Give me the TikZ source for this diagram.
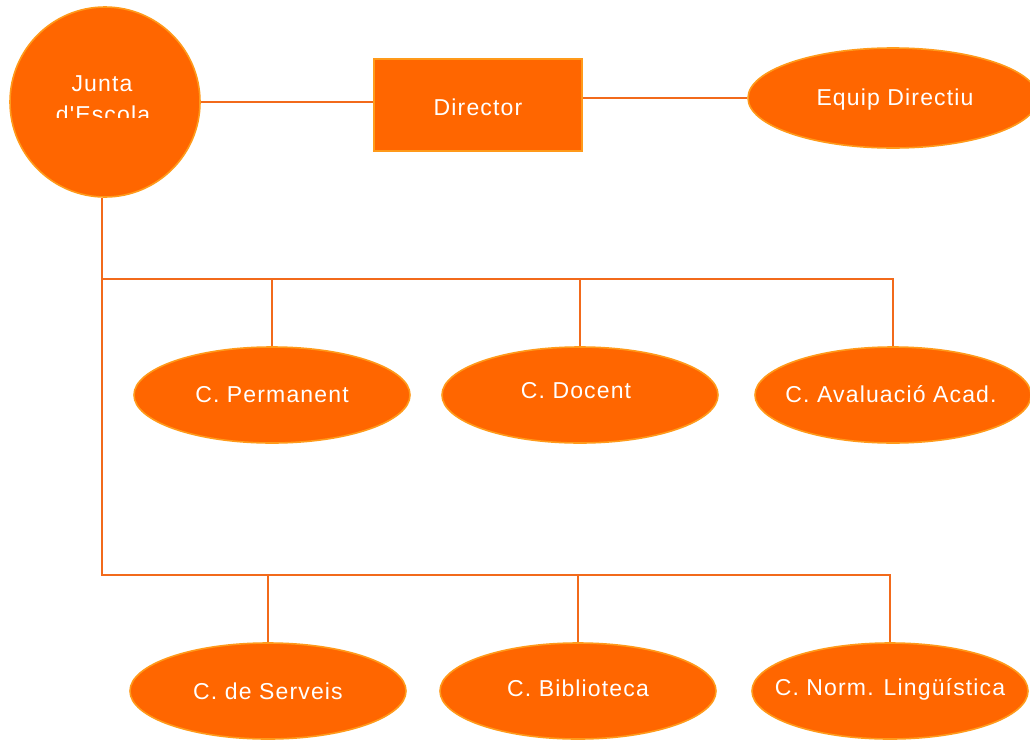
\documentclass[tikz,border=0pt]{standalone}
\usepackage{fontspec}
\newfontfamily\lblfont{Liberation Sans}[LetterSpace=5]
\usetikzlibrary{shapes.geometric}
\definecolor{boxfill}{HTML}{FF6600}
\definecolor{boxedge}{HTML}{FF9A1A}
\definecolor{linecol}{HTML}{F26A1B}
\tikzset{
  lbl/.style={text=white, inner sep=0pt, font=\lblfont\fontsize{23}{27}\selectfont},
  shp/.style={fill=boxfill, draw=boxedge, line width=1.6pt, inner sep=0pt},
  ell/.style={shp, ellipse, minimum width=276pt, minimum height=96pt},
  conn/.style={draw=linecol, line width=1.8pt}
}
\begin{document}
\begin{tikzpicture}[x=1pt,y=-1pt]
\useasboundingbox (0,0) rectangle (1030,739);
% nodes
\node[shp, circle, minimum size=190pt] (junta) at (105,102) {};
\node[lbl, anchor=base] (juntaA) at (102,91) {Junta};
\begin{scope}
  \clip (10,95) rectangle (200,117.5);
  \node[lbl, anchor=base] (juntaB) at (103,122) {d'Escola};
\end{scope}
\node[shp, rectangle, minimum width=208pt, minimum height=92pt,
  label={[lbl, yshift=-2pt]center:Director}] (director) at (478,105) {};
\node[shp, ellipse, minimum width=290pt, minimum height=100pt,
  label={[lbl, xshift=2pt, yshift=-2pt]center:Equip Directiu}] (equip) at (893,98) {};

\node[ell, label={[lbl]center:C. Permanent}] (cperm) at (272,395) {};
\node[ell, label={[lbl, xshift=-4pt, yshift=4pt]center:C. Docent}] (cdoc) at (580,395) {};
\node[ell, label={[lbl, xshift=-2pt, yshift=1pt]center:C. Avaluació Acad.}] (caval) at (893,395) {};
\node[ell, label={[lbl]center:C. de Serveis}] (cserv) at (268,691) {};
\node[ell, label={[lbl, yshift=3pt]center:C. Biblioteca}] (cbib) at (578,691) {};
\node[ell, label={[lbl, yshift=2pt]center:C. Norm. Lingüística}] (cnorm) at (890,691) {};

\coordinate (b1) at (102,279);
\coordinate (b2) at (102,575);

% connectors
\draw[conn] (junta.east) -- (director.west |- junta.east);
\draw[conn] (director.east |- equip.west) -- (equip.west);
\draw[conn] (b2 |- junta.south) -- (b2) -- (cnorm.north |- b2) -- (cnorm.north);
\draw[conn] (b1) -- (caval.north |- b1) -- (caval.north);
\draw[conn] (cperm.north |- b1) -- (cperm.north);
\draw[conn] (cdoc.north |- b1) -- (cdoc.north);
\draw[conn] (cserv.north |- b2) -- (cserv.north);
\draw[conn] (cbib.north |- b2) -- (cbib.north);
\end{tikzpicture}
\end{document}
